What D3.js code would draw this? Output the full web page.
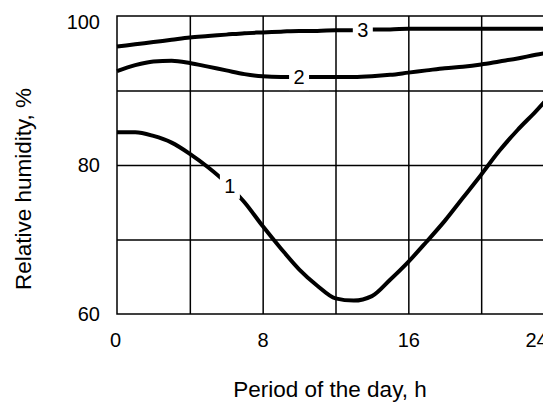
<!DOCTYPE html>
<html>
<head>
<meta charset="utf-8">
<script src="https://cdn.jsdelivr.net/npm/d3@7"></script>
<style>
  body { margin: 0; background: #fff; }
  svg { display: block; font-family: Arial, "Liberation Sans", sans-serif; }
  .grid line { stroke: #000; stroke-width: 1.5; }
  .grid .domain { display: none; }
  .ticks .domain { display: none; }
  .ticks text { font-size: 20px; fill: #000; }
</style>
</head>
<body>
<script>
// data
var hours = [0,1,2,3,4,5,6,7,8,9,10,11,12,13,14,15,16,17,18,19,20,21,22,23,24]
var curve1 = [84.4,84.4,83.9,83.0,81.5,79.7,77.6,75.0,71.8,68.8,66.0,63.8,62.1,61.8,62.4,64.6,67.0,69.7,72.5,75.6,78.7,81.9,84.7,87.2,89.9]
var curve2 = [92.6,93.4,93.9,94.0,93.7,93.2,92.7,92.2,91.9,91.8,91.8,91.8,91.8,91.8,91.9,92.1,92.4,92.7,93.0,93.2,93.5,93.9,94.3,94.8,95.2]
var curve3 = [95.9,96.2,96.5,96.8,97.1,97.3,97.5,97.7,97.8,97.9,98.0,98.0,98.1,98.1,98.2,98.2,98.3,98.3,98.3,98.3,98.3,98.3,98.3,98.3,98.3]

var xTicks = [0, 8, 16, 24]
var yTicks = [60, 80, 100]
var xGrid = [4, 8, 12, 16, 20]
var yGrid = [70, 80, 90]

// curve labels: name, hour, humidity
var curveLabels = [
    {name: "1", h: 6.2, v: 77.2},
    {name: "2", h: 10.0, v: 91.8},
    {name: "3", h: 13.5, v: 98.1}
]

function main() {
    var series = [curve1, curve2, curve3].map(function(vals) {
        return vals.map(function(v, i) { return {h: hours[i], v: v} })
    })
    drawChart(series)
}

function drawChart(series) {
    var width = 543, height = 402
    var margin = {top: 16, left: 117}
    var plotW = 437, plotH = 298

    var svg = d3.select("body").append("svg")
        .attr("width", width)
        .attr("height", height)

    var x = d3.scaleLinear().domain([0, 24]).range([margin.left, margin.left + plotW])
    var y = d3.scaleLinear().domain([60, 100]).range([margin.top + plotH, margin.top])

    // grid lines
    svg.append("g")
        .attr("class", "grid")
        .attr("transform", "translate(0," + (margin.top + plotH) + ")")
        .call(d3.axisBottom(x).tickValues(xGrid).tickSize(-plotH).tickFormat(""))

    svg.append("g")
        .attr("class", "grid")
        .attr("transform", "translate(" + margin.left + ",0)")
        .call(d3.axisLeft(y).tickValues(yGrid).tickSize(-plotW).tickFormat(""))

    // frame
    svg.append("rect")
        .attr("x", x(0))
        .attr("y", y(100))
        .attr("width", x(24) - x(0))
        .attr("height", y(60) - y(100))
        .attr("fill", "none")
        .attr("stroke", "#000")
        .attr("stroke-width", 1.5)

    // curves
    var line = d3.line()
        .x(function(d) { return x(d.h) })
        .y(function(d) { return y(d.v) })
        .curve(d3.curveMonotoneX)

    svg.selectAll(".curve")
        .data(series)
        .enter().append("path")
        .attr("class", "curve")
        .attr("d", line)
        .attr("fill", "none")
        .attr("stroke", "#000")
        .attr("stroke-width", 4)

    // curve labels break the line
    var lab = svg.selectAll(".clabel")
        .data(curveLabels)
        .enter().append("g")
        .attr("class", "clabel")
        .attr("transform", function(d) { return "translate(" + x(d.h) + "," + y(d.v) + ")" })

    lab.append("rect")
        .attr("x", -10).attr("y", -13)
        .attr("width", 20).attr("height", 26)
        .attr("fill", "#fff")

    lab.append("text")
        .attr("text-anchor", "middle")
        .attr("dy", "0.36em")
        .style("font-size", "20px")
        .text(function(d) { return d.name })

    // tick labels
    var xAxis = svg.append("g")
        .attr("class", "ticks")
        .attr("transform", "translate(0," + (margin.top + plotH) + ")")
        .call(d3.axisBottom(x).tickValues(xTicks).tickSize(0).tickPadding(19))
    // the 24 sits left of its grid edge in the picture
    xAxis.selectAll(".tick text")
        .attr("dx", function(d) { return d == 24 ? -18 : (d == 0 ? -2 : 0) })

    var yAxis = svg.append("g")
        .attr("class", "ticks")
        .attr("transform", "translate(" + margin.left + ",0)")
        .call(d3.axisLeft(y).tickValues(yTicks).tickSize(0).tickPadding(17))
    yAxis.selectAll(".tick text")
        .attr("dy", function(d) { return d == 100 ? "0.62em" : "0.32em" })

    // axis titles
    svg.append("text")
        .attr("x", 330)
        .attr("y", 397)
        .attr("text-anchor", "middle")
        .style("font-size", "22.5px")
        .text("Period of the day, h")

    svg.append("text")
        .attr("transform", "translate(31,189) rotate(-90)")
        .attr("text-anchor", "middle")
        .style("font-size", "22.5px")
        .text("Relative humidity, %")
}

main()
</script>
</body>
</html>
